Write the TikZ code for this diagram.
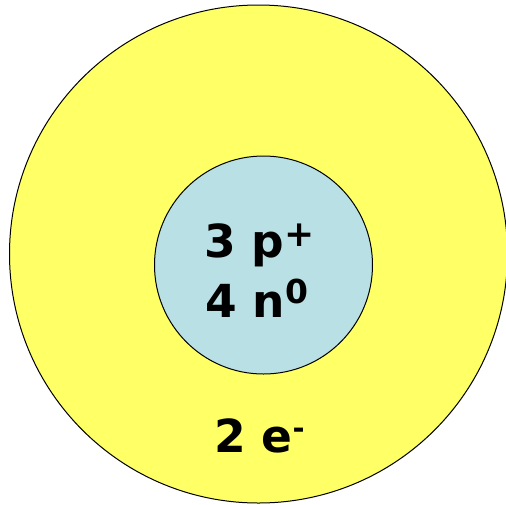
\documentclass[tikz,border=0pt]{standalone}
\usepackage{fontspec}
\setmainfont{DejaVu Sans}
\definecolor{shellyellow}{RGB}{255,255,102}
\definecolor{nucleusblue}{RGB}{185,224,228}
\begin{document}
\begin{tikzpicture}[x=1pt,y=-1pt,
  orbit/.style={circle,draw=black,line width=1pt,inner sep=0pt},
  label/.style={anchor=base west,inner sep=0pt,font=\fontsize{45.5}{45.5}\selectfont\bfseries}]
\useasboundingbox (0,0) rectangle (506,504);
\node[orbit,fill=shellyellow,minimum size=498pt] (shell) at (258.5,254) {};
\node[orbit,fill=nucleusblue,minimum size=218pt] (nucleus) at (263.5,265) {};
\node[label] (protons) at (204,257) {3 p\raisebox{11pt}{\fontsize{36}{36}\selectfont +}};
\node[label] (neutrons) at (205,317) {4 n\raisebox{14pt}{\fontsize{33}{33}\selectfont 0}};
\node[label] (electrons) at (214,452) {2 e\raisebox{13.5pt}{\fontsize{29}{29}\selectfont -}};
\end{tikzpicture}
\end{document}
